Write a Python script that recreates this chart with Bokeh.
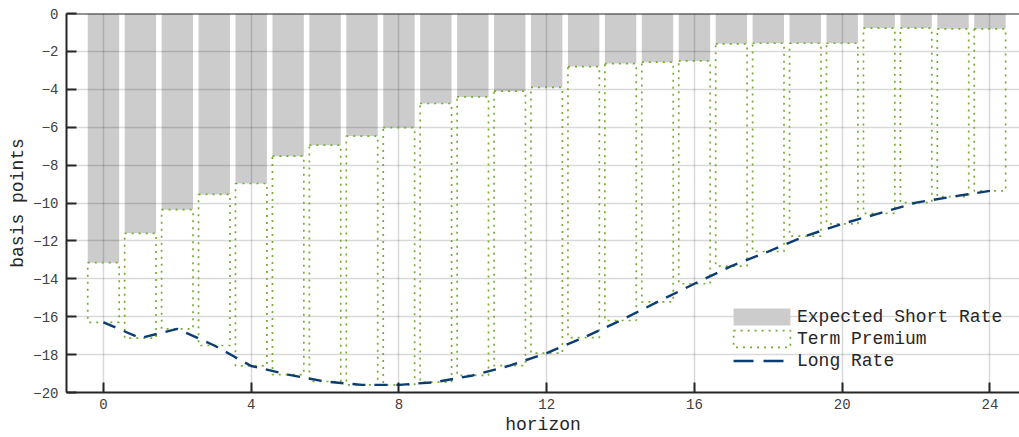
from bokeh.plotting import figure
from bokeh.models import ColumnDataSource, Span, Legend, LegendItem, FixedTicker, Range1d
from bokeh.embed import file_html
from bokeh.resources import INLINE

horizon = list(range(25))
expected_short_rate = [-13.15, -11.6, -10.35, -9.55, -8.97, -7.53, -6.95, -6.47, -6.02,
                       -4.75, -4.40, -4.10, -3.90, -2.80, -2.64, -2.57, -2.50,
                       -1.60, -1.57, -1.57, -1.57, -0.77, -0.77, -0.81, -0.81]
long_rate = [-16.3, -17.13, -16.64, -17.52, -18.6, -19.06, -19.42, -19.6, -19.6,
             -19.45, -19.1, -18.58, -17.92, -17.1, -16.2, -15.22, -14.26,
             -13.33, -12.56, -11.75, -11.1, -10.55, -9.98, -9.66, -9.36]
term_premium = [l - e for l, e in zip(long_rate, expected_short_rate)]

x_ticks = [0, 4, 8, 12, 16, 20, 24]
y_ticks = list(range(-20, 1, 2))

FONT = "Liberation Mono"
GRAY = "#cccccc"
GREEN = "#77ac30"
BLUE = "#0b3d72"
AX = "#262626"

src = ColumnDataSource(dict(
    h=horizon, esr=expected_short_rate, lr=long_rate,
    zero=[0] * len(horizon),
))

p = figure(width=1019, height=437, output_backend="svg", toolbar_location=None,
           x_range=Range1d(-1, 24.8), y_range=Range1d(-20, 0),
           min_border_left=66, min_border_right=0, min_border_top=13, min_border_bottom=45)
p.outline_line_color = None
p.background_fill_color = "white"

bars = p.vbar(x="h", top="zero", bottom="esr", width=0.85, source=src,
              fill_color=GRAY, line_color=None, level="image")
tp = p.vbar(x="h", top="esr", bottom="lr", width=0.85, source=src,
            fill_color=None, line_color=GREEN, line_width=1.7, line_dash="2 5")
lr = p.line(x="h", y="lr", source=src, line_color=BLUE, line_width=2.4, line_dash="13 9")
# legend key for the long-rate line: same style, two dashes inset in the legend box
lr_key = p.line(x=[-3, -2], y=[-30, -30], line_color=BLUE, line_width=2.4,
                line_dash="20 10 20 100", line_dash_offset=143)

p.add_layout(Span(location=0, dimension="width", line_color=AX, line_width=2))

for ax in (p.xaxis[0], p.yaxis[0]):
    ax.major_tick_in = 10
    ax.major_tick_out = 0
    ax.minor_tick_in = 0
    ax.minor_tick_out = 0
    ax.axis_line_color = AX
    ax.axis_line_width = 2
    ax.major_tick_line_color = AX
    ax.major_tick_line_width = 2
    ax.major_label_text_font = FONT
    ax.major_label_text_font_size = "14px"
    ax.major_label_text_color = "#404040"
    ax.axis_label_text_font = FONT
    ax.axis_label_text_font_size = "18px"
    ax.axis_label_text_font_style = "normal"
    ax.axis_label_text_color = "#262626"

p.xaxis.ticker = FixedTicker(ticks=x_ticks)
p.yaxis.ticker = FixedTicker(ticks=y_ticks)
p.xaxis.axis_label = "horizon"
p.yaxis.axis_label = "basis points"
p.xaxis.major_label_standoff = 6
p.yaxis.major_label_standoff = 8
p.xaxis.axis_label_standoff = 3
p.yaxis.axis_label_standoff = 2

p.xgrid.ticker = FixedTicker(ticks=x_ticks)
p.ygrid.ticker = FixedTicker(ticks=y_ticks)
for g in (p.xgrid[0], p.ygrid[0]):
    g.grid_line_color = "black"
    g.grid_line_alpha = 0.15
    g.grid_line_width = 1.5

legend = Legend(items=[
    LegendItem(label="Expected Short Rate", renderers=[bars]),
    LegendItem(label="Term Premium", renderers=[tp]),
    LegendItem(label="Long Rate", renderers=[lr_key]),
], location=(660, 21))
legend.background_fill_alpha = 0
legend.border_line_alpha = 0
legend.label_text_font = FONT
legend.label_text_font_size = "18px"
legend.label_text_color = "#262626"
legend.glyph_width = 71
legend.glyph_height = 21
legend.label_standoff = 0
legend.spacing = 1
legend.padding = 0
legend.margin = 0
legend.label_height = 17
p.add_layout(legend)

open("out.html", "w").write(file_html(p, INLINE))
